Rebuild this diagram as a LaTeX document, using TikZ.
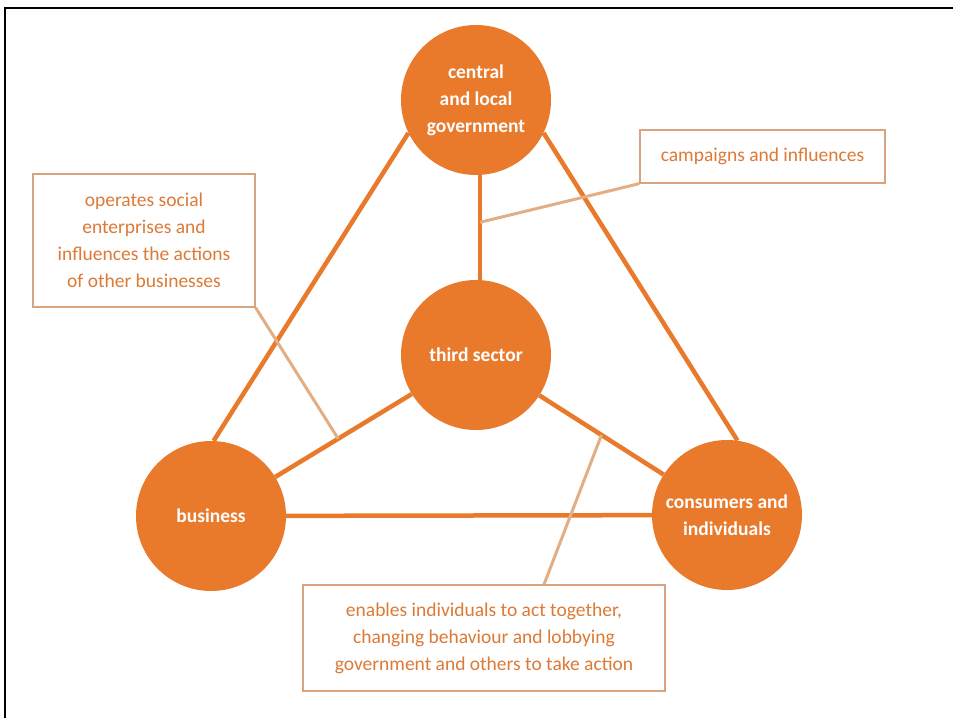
\documentclass[tikz,border=0pt]{standalone}
\usepackage{fontspec}
\setmainfont{Carlito}
\usetikzlibrary{calc,backgrounds}
\definecolor{mainor}{HTML}{E97A2C}
\definecolor{lightor}{HTML}{E3AE83}
\definecolor{boxline}{HTML}{D6A57F}
\definecolor{boxtext}{HTML}{DC7A36}
\tikzset{
  hub/.style={circle, fill=mainor, draw=none, minimum size=150pt, inner sep=0pt,
    text=white, font=\fontsize{19.5}{27}\selectfont\bfseries, align=center},
  note/.style={draw=boxline, line width=1.2pt, fill=white, inner sep=0pt,
    text=boxtext, font=\fontsize{19.5}{27}\selectfont, align=center},
  link/.style={draw=mainor, line width=4.5pt},
  pointer/.style={draw=lightor, line width=3pt},
}
\begin{document}
\begin{tikzpicture}[x=1pt,y=-1pt]
\useasboundingbox (0,0) rectangle (953,718);

\node[hub] (gov) at (476,100) {central\\and local\\government};
\node[hub] (third) at (476,355) {third sector};
\node[hub] (bus) at (211,516) {business};
\node[hub] (con) at (727,515) {consumers and\\individuals};

\node[note, minimum width=245pt, minimum height=53pt] (camp) at (762.5,156.5) {campaigns and influences};
\node[note, minimum width=222pt, minimum height=133pt] (oper) at (144,240.5)
  {operates social\\enterprises and\\influences the actions\\of other businesses};
\node[note, minimum width=362pt, minimum height=106pt] (enab) at (484,638)
  {enables individuals to act together,\\changing behaviour and lobbying\\government and others to take action};

\begin{scope}[on background layer]
\fill[white] (0,0) rectangle (953,718);
\draw[black, line width=2pt] (5,718) -- (5,8) -- (953,8);
\draw[link] (gov.206) -- (bus.88);
\draw[link] (gov.334) -- (con.82);
\draw[link] ([xshift=4pt]gov.south) -- ([xshift=4pt]third.north);
\draw[link] (third) -- (bus);
\draw[link] (third) -- (con);
\draw[link] (bus) -- (con);

\coordinate (p1) at ($([xshift=4pt]gov.south)!0.45!([xshift=4pt]third.north)$);
\coordinate (p2) at ($(third)!0.52!(bus)$);
\coordinate (p3) at ($(third)!0.5!(con)$);
\coordinate (e1) at ([xshift=60pt]enab.north);
\draw[pointer] (camp.south west) -- (p1);
\draw[pointer] (oper.south east) -- (p2);
\draw[pointer] (e1) -- (p3);
\end{scope}
\end{tikzpicture}
\end{document}
